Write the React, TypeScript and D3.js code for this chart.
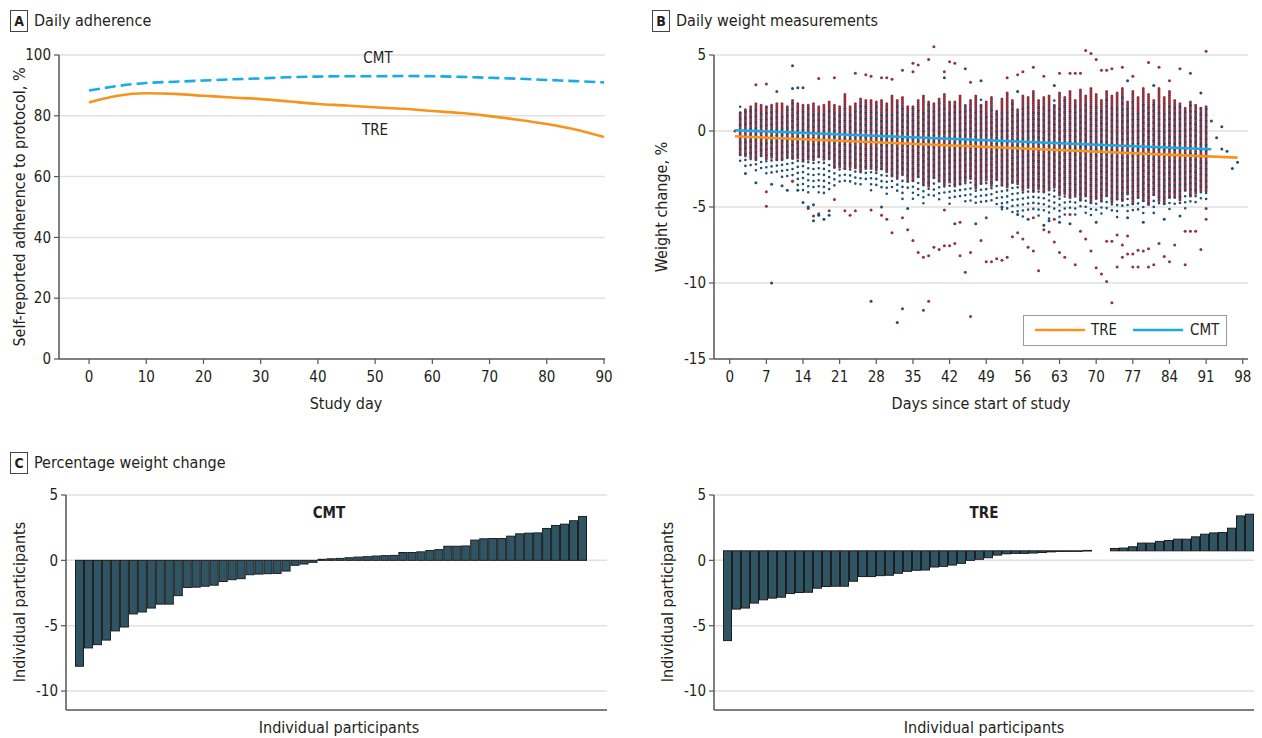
import React from 'react'
import * as d3 from 'd3'

// Panel A: daily adherence (%), read every 5 days
const adhDays = [0, 5, 10, 15, 20, 25, 30, 35, 40, 45, 50, 55, 60, 65, 70, 75, 80, 85, 90]
const adhTRE = [84.4, 86.6, 87.4, 87.2, 86.6, 86.0, 85.5, 84.7, 83.9, 83.4, 82.8, 82.3, 81.6, 80.9, 79.9, 78.7, 77.3, 75.5, 73.0]
const adhCMT = [88.3, 89.8, 90.8, 91.2, 91.6, 92.0, 92.3, 92.7, 92.9, 93.0, 93.0, 93.1, 93.0, 92.8, 92.5, 92.2, 91.8, 91.4, 91.0]
const adhTicksX = [0, 10, 20, 30, 40, 50, 60, 70, 80, 90]
const adhTicksY = [0, 20, 40, 60, 80, 100]

// Panel B: dense column extent per study day (days 2..91), weight change %
const treHi = [
  1.2, 1.4, 1.6, 1.8, 1.7, 1.6, 1.7, 1.8, 1.8, 1.6,
  2.0, 1.8, 1.7, 1.7, 1.8, 1.6, 1.7, 1.9, 1.7, 1.6,
  2.4, 1.6, 1.8, 2.1, 2.0, 2.0, 1.9, 2.0, 1.8, 2.3,
  2.0, 2.2, 1.6, 1.6, 2.0, 2.3, 1.9, 1.8, 2.1, 2.4,
  1.9, 1.9, 2.3, 1.6, 2.0, 2.3, 1.7, 1.9, 2.2, 1.3,
  2.1, 2.5, 2.0, 1.4, 2.3, 2.2, 2.6, 2.0, 2.2, 2.3,
  1.7, 2.5, 2.2, 2.6, 2.0, 2.7, 2.3, 2.8, 2.4, 2.0,
  2.6, 2.3, 2.5, 2.8, 1.9, 2.6, 2.2, 2.8, 2.4, 2.0,
  2.8, 2.2, 2.6, 2.0, 1.8, 1.5, 1.9, 1.7, 1.5, 1.6
]
const treLo = [
  -1.6, -1.7, -1.7, -2.0, -1.6, -1.9, -1.8, -2.0, -1.9, -1.8,
  -1.9, -1.8, -2.0, -1.9, -1.9, -1.8, -1.9, -1.8, -2.5, -2.4,
  -2.5, -2.4, -2.5, -2.7, -2.6, -2.5, -2.7, -2.5, -2.8, -3.0,
  -3.1, -2.9, -3.3, -3.4, -3.0, -3.5, -3.7, -3.2, -3.3, -3.6,
  -3.4, -3.7, -3.5, -3.4, -3.2, -3.8, -3.5, -3.3, -3.6, -3.2,
  -3.6, -3.8, -3.5, -3.5, -3.9, -3.8, -4.0, -3.9, -4.1, -4.0,
  -3.8, -4.3, -4.2, -4.5, -4.2, -4.6, -4.4, -4.8, -4.5, -4.7,
  -4.3, -4.8, -4.5, -4.6, -4.2, -4.9, -4.4, -4.7, -4.9, -4.3,
  -4.6, -4.8, -4.5, -4.4, -4.6, -4.0, -4.3, -4.2, -3.9, -4.0
]
const cmtHi = [
  1.6, 1.5, 1.4, 1.7, 1.3, 1.6, 1.5, 1.4, 1.3, 1.6,
  1.9, 1.5, 1.4, 1.5, 1.3, 1.2, 1.4, 1.5, 1.2, 1.3,
  1.6, 1.4, 1.5, 1.7, 1.9, 1.4, 1.6, 1.3, 1.5, 1.4,
  1.8, 1.5, 1.3, 1.6, 1.7, 1.4, 1.8, 1.6, 2.0, 1.5,
  1.4, 1.7, 1.6, 1.9, 1.4, 1.5, 2.2, 1.3, 1.6, 1.2,
  1.5, 1.4, 1.8, 1.3, 1.6, 1.9, 1.4, 1.6, 1.8, 1.5,
  2.0, 1.7, 2.1, 1.6, 1.8, 1.4, 2.0, 1.7, 1.9, 1.5,
  2.1, 1.8, 1.6, 2.2, 1.7, 2.0, 1.5, 1.9, 1.6, 2.0,
  1.7, 1.5, 1.8, 1.6, 1.9, 1.4, 1.7, 1.5, 1.6, 1.8
]
const cmtLo = [
  -2.3, -2.6, -2.5, -2.9, -2.6, -2.8, -3.0, -2.9, -3.2, -3.0,
  -3.4, -3.9, -4.1, -4.3, -4.0, -4.4, -4.2, -4.0, -3.6, -3.4,
  -3.3, -3.7, -3.5, -3.6, -3.4, -3.9, -3.7, -3.8, -4.2, -4.0,
  -4.3, -4.5, -4.1, -4.6, -4.4, -4.8, -4.5, -4.3, -4.7, -4.4,
  -4.9, -4.6, -4.5, -4.8, -4.6, -4.9, -4.7, -5.0, -4.8, -5.2,
  -5.4, -5.1, -5.6, -5.3, -5.7, -5.5, -5.3, -5.8, -5.6, -5.9,
  -5.4, -5.7, -5.5, -5.2, -5.6, -5.3, -5.5, -5.8, -5.4, -5.6,
  -5.2, -5.5, -5.9, -5.3, -5.6, -5.4, -5.2, -5.7, -5.0, -5.4,
  -5.1, -4.9, -5.3, -5.0, -4.8, -5.2, -4.7, -5.0, -4.6, -4.5
]
const firstColumnDay = 2

// scattered single measurements: [day, weight change %]
const treSingles = [
  [1, 0], [5, 3.05], [7, 3.1], [9, 2.6], [17, 3.45], [20, 3.5], [24, 3.8], [26, 3.7], [27, 3.6], [29, 3.5],
  [30, 3.5], [31, 3.4], [33, 4.0], [35, 4.45], [35, 3.9], [36, 4.35], [38, 4.7], [39, 5.55], [41, 3.9], [42, 4.55],
  [43, 4.45], [45, 4.1], [46, 3.2], [53, 3.5], [55, 3.7], [56, 3.9], [58, 4.2], [60, 3.6], [63, 3.8], [65, 3.8],
  [66, 3.8], [67, 3.8], [68, 5.3], [69, 5.1], [70, 4.7], [71, 4.0], [72, 4.0], [73, 4.1], [75, 4.2], [77, 3.6],
  [80, 4.5], [82, 4.2], [84, 3.3], [86, 4.1], [88, 3.8], [91, 5.25],
  [7, -4.0], [7, -4.95], [12, -3.3], [15, -5.1], [16, -5.6], [17, -5.45], [19, -5.25], [20, -4.5], [22, -5.25], [23, -5.55],
  [24, -5.25], [27, -5.2], [29, -5.55], [30, -5.8], [31, -6.7], [33, -5.7], [34, -6.5], [35, -7.2], [36, -8.0], [37, -8.3],
  [37, -11.8], [38, -8.2], [38, -11.2], [39, -7.65], [40, -7.8], [41, -7.55], [41, -5.2], [42, -7.55], [43, -7.4], [44, -8.2],
  [44, -6.0], [45, -9.3], [46, -8.0], [46, -12.2], [48, -7.2], [49, -8.6], [49, -5.7], [50, -8.6], [51, -8.4], [52, -8.5],
  [53, -8.3], [54, -6.95], [55, -6.7], [56, -7.1], [57, -7.65], [58, -7.9], [58, -5.7], [59, -9.2], [60, -6.5], [61, -6.65],
  [62, -7.3], [62, -5.8], [63, -8.0], [64, -8.3], [65, -5.5], [66, -8.8], [67, -6.6], [68, -7.1], [69, -7.9], [70, -9.0],
  [71, -9.4], [72, -9.9], [72, -7.25], [73, -11.3], [73, -7.25], [74, -6.85], [74, -8.95], [75, -7.5], [75, -8.3], [76, -6.9],
  [76, -8.1], [77, -8.95], [77, -8.1], [78, -7.85], [78, -8.95], [79, -7.9], [80, -7.75], [80, -8.95], [81, -8.8], [82, -7.4],
  [83, -8.25], [84, -8.6], [85, -7.5], [87, -8.8], [87, -6.6], [88, -6.6], [89, -6.6], [90, -7.8], [91, -5.1], [91, -5.8]
]
const cmtSingles = [
  [8, -10], [12, 4.3], [27, -11.2], [32, -12.6], [33, -11.7], [41, 3.5], [48, 3.3], [47, -6.1], [43, -6.1], [12, 2.8],
  [13, 2.85], [14, 2.85], [3, -2.8], [5, -3.4], [8, -3.5], [10, -3.6], [11, -3.9], [13, -3.9], [15, -5.0], [16, -5.9],
  [17, -5.55], [18, -5.8], [19, -5.55], [16, -4.85], [14, -4.7], [29, -5.0], [34, -5.1], [52, -5.0], [55, -5.5], [57, -5.8],
  [60, -6.2], [61, -5.9], [63, -6.0], [65, -6.1], [70, -6.0], [76, -5.7], [79, -6.0], [83, -5.8], [86, -5.6], [62, 3.0],
  [55, 2.6], [76, 3.3], [81, 3.0], [90, 2.5],
  [92, 0.66], [93, -0.44], [94, 0.28], [94, -1.18], [95, -1.33], [96, -2.46], [97, -2.05]
]
// fitted trend lines: [day, weight change %]
const trendTRE = [[1, -0.35], [97, -1.75]]
const trendCMT = [[1, 0.05], [92, -1.2]]
const wtTicksX = [0, 7, 14, 21, 28, 35, 42, 49, 56, 63, 70, 77, 84, 91, 98]
const wtTicksY = [5, 0, -5, -10, -15]

// Panel C: individual % weight change, sorted
const changeCMT = [
  -8.1, -6.7, -6.45, -6.1, -5.4, -5.1, -4.1, -3.95, -3.65, -3.35, -3.35, -2.7, -2.08, -2.05, -1.98, -1.9, -1.62, -1.48, -1.4,
  -1.1, -1.05, -1.02, -1.0, -0.82, -0.38, -0.28, -0.15, 0.08, 0.12, 0.15, 0.2, 0.25, 0.28, 0.33, 0.36, 0.38,
  0.6, 0.6, 0.65, 0.75, 0.82, 1.08, 1.08, 1.1, 1.55, 1.65, 1.67, 1.67, 1.85, 2.03, 2.08, 2.1, 2.44, 2.67, 2.77, 3.03, 3.36
]
const changeTRE = [
  -6.14, -3.73, -3.65, -3.27, -3.02, -2.89, -2.82, -2.54, -2.46, -2.44, -2.13, -2.0, -1.98, -1.98, -1.6, -1.24, -1.24, -1.17,
  -1.14, -0.99, -0.84, -0.76, -0.74, -0.51, -0.46, -0.36, -0.23, 0.0, 0.08, 0.2, 0.4, 0.5, 0.53, 0.53, 0.56, 0.6, 0.65, 0.68,
  0.7, 0.72, 0.76, null, null, 0.91, 0.94, 1.04, 1.32, 1.32, 1.45, 1.52, 1.62, 1.62, 1.8, 2.0, 2.1, 2.13, 2.46, 3.4, 3.53
]
const treBase = 0.73
const changeTicksY = [5, 0, -5, -10]

const FONT = '"Liberation Sans Narrow", "DejaVu Sans Condensed", "Liberation Sans", sans-serif'
const TXT = '#231f20'
const GRID = '#e1e1e1'
const AXIS = '#555'
const ORANGE = '#f7941d'
const SKY = '#18ace6'
const DOT_RED = '#8e3340'
const DOT_BLUE = '#1d4f78'
const BAR = '#2f5565'

// scales
const xA = d3.scaleLinear().domain([-5.25, 90]).range([59, 604])
const yA = d3.scaleLinear().domain([0, 100]).range([359, 55])
const xB = d3.scaleLinear().domain([-3, 99]).range([714, 1248])
const yB = d3.scaleLinear().domain([-15, 5]).range([359, 55])
const yC = d3.scaleLinear().domain([-11.45, 5]).range([710, 495])
const xCL = d3.scaleBand<number>().domain(d3.range(changeCMT.length)).range([75, 587])
const xCR = d3.scaleBand<number>().domain(d3.range(changeTRE.length)).range([723, 1254])

const adhLine = d3
  .line<number>()
  .x((d, i) => xA(adhDays[i]))
  .y(d => yA(d))
  .curve(d3.curveMonotoneX)

const trendLine = d3
  .line<number[]>()
  .x(d => xB(d[0]))
  .y(d => yB(d[1]))

function PanelTitle({ x, y, letter, title }: { x: number; y: number; letter: string; title: string }) {
  return (
    <g>
      <rect x={x + 0.5} y={y + 0.5} width={17} height={21} fill="#fff" stroke="#444" strokeWidth={1} />
      <text x={x + 9} y={y + 16} textAnchor="middle" fontSize={14} fontWeight="bold" fill={TXT}>
        {letter}
      </text>
      <text x={x + 24} y={y + 16} fontSize={16} fill={TXT}>
        {title}
      </text>
    </g>
  )
}

function YGrid({ ticks, y, x0, x1, fmt }: { ticks: number[]; y: (v: number) => number; x0: number; x1: number; fmt?: (v: number) => string }) {
  return (
    <g>
      {ticks.map(t => (
        <g key={t}>
          <line x1={x0} x2={x1} y1={y(t)} y2={y(t)} stroke={GRID} strokeWidth={1.5} />
          <line x1={x0 - 5} x2={x0} y1={y(t)} y2={y(t)} stroke={AXIS} strokeWidth={1.2} />
          <text x={x0 - 8} y={y(t)} dy="0.35em" textAnchor="end" fontSize={15} fill={TXT}>
            {fmt ? fmt(t) : t}
          </text>
        </g>
      ))}
    </g>
  )
}

function XTicks({ ticks, x, y0 }: { ticks: number[]; x: (v: number) => number; y0: number }) {
  return (
    <g>
      {ticks.map(t => (
        <g key={t}>
          <line x1={x(t)} x2={x(t)} y1={y0} y2={y0 + 5} stroke={AXIS} strokeWidth={1.2} />
          <text x={x(t)} y={y0 + 23} textAnchor="middle" fontSize={15} fill={TXT}>
            {t}
          </text>
        </g>
      ))}
    </g>
  )
}

function Bars({ values, x, base }: { values: (number | null)[]; x: d3.ScaleBand<number>; base: number }) {
  return (
    <g>
      {values.map((v, i) =>
        v === null ? null : (
          <rect
            key={i}
            x={x(i)! + 0.5}
            width={x.bandwidth() - 1}
            y={Math.min(yC(v), yC(base))}
            height={Math.max(0.6, Math.abs(yC(v) - yC(base)))}
            fill={BAR}
            stroke="#1e1e1e"
            strokeWidth={1}
          />
        )
      )}
    </g>
  )
}

export default function App() {
  const fmtMinus = (v: number) => (v < 0 ? '-' + Math.abs(v) : String(v))
  return (
    <svg
      width={1262}
      height={738}
      style={{ position: 'absolute', left: 0, top: 0, background: '#fff' }}
      fontFamily={FONT}
    >
      {/* ---------- A ---------- */}
      <PanelTitle x={10} y={10} letter="A" title="Daily adherence" />
      <YGrid ticks={adhTicksY.filter(t => t > 0)} y={yA} x0={59} x1={605} />
      <line x1={54} x2={59} y1={yA(0)} y2={yA(0)} stroke={AXIS} strokeWidth={1.2} />
      <text x={51} y={yA(0)} dy="0.35em" textAnchor="end" fontSize={15} fill={TXT}>0</text>
      <line x1={59} x2={59} y1={55} y2={359} stroke={AXIS} strokeWidth={1.5} />
      <line x1={59} x2={605} y1={359} y2={359} stroke={AXIS} strokeWidth={1.5} />
      <XTicks ticks={adhTicksX} x={xA} y0={359} />
      <path d={adhLine(adhCMT)!} fill="none" stroke={SKY} strokeWidth={2.6} strokeDasharray="11 5" />
      <path d={adhLine(adhTRE)!} fill="none" stroke={ORANGE} strokeWidth={2.6} />
      <text x={378} y={63} textAnchor="middle" fontSize={15} fill={TXT}>CMT</text>
      <text x={375} y={135} textAnchor="middle" fontSize={15} fill={TXT}>TRE</text>
      <text x={346} y={409} textAnchor="middle" fontSize={16} fill={TXT}>Study day</text>
      <text transform="translate(25,207) rotate(-90)" textAnchor="middle" fontSize={16} fill={TXT}>
        Self-reported adherence to protocol, %
      </text>

      {/* ---------- B ---------- */}
      <PanelTitle x={652} y={10} letter="B" title="Daily weight measurements" />
      <YGrid ticks={wtTicksY.filter(t => t > -15)} y={yB} x0={714} x1={1248} fmt={fmtMinus} />
      <line x1={709} x2={714} y1={yB(-15)} y2={yB(-15)} stroke={AXIS} strokeWidth={1.2} />
      <text x={706} y={yB(-15)} dy="0.35em" textAnchor="end" fontSize={15} fill={TXT}>-15</text>
      <g>
        {treHi.map((hi, i) => (
          <line
            key={'r' + i}
            x1={xB(i + firstColumnDay)}
            x2={xB(i + firstColumnDay)}
            y1={yB(hi)}
            y2={yB(treLo[i])}
            stroke={DOT_RED}
            strokeWidth={3}
            strokeLinecap="round"
            strokeDasharray="0 2"
          />
        ))}
        {cmtHi.map((hi, i) => (
          <line
            key={'b' + i}
            x1={xB(i + firstColumnDay)}
            x2={xB(i + firstColumnDay)}
            y1={yB(hi)}
            y2={yB(cmtLo[i])}
            stroke={DOT_BLUE}
            strokeWidth={2.6}
            strokeLinecap="round"
            strokeDasharray="0 6"
            strokeDashoffset={(i * 2.3) % 6}
          />
        ))}
        {treSingles.map((d, i) => (
          <circle key={'rs' + i} cx={xB(d[0])} cy={yB(d[1])} r={1.5} fill={DOT_RED} />
        ))}
        {cmtSingles.map((d, i) => (
          <circle key={'bs' + i} cx={xB(d[0])} cy={yB(d[1])} r={1.5} fill={DOT_BLUE} />
        ))}
      </g>
      <path d={trendLine(trendTRE)!} fill="none" stroke={ORANGE} strokeWidth={2.6} />
      <path d={trendLine(trendCMT)!} fill="none" stroke={SKY} strokeWidth={2.6} />
      <line x1={714} x2={714} y1={55} y2={359} stroke={AXIS} strokeWidth={1.5} />
      <line x1={714} x2={1248} y1={359} y2={359} stroke={AXIS} strokeWidth={1.5} />
      <XTicks ticks={wtTicksX} x={xB} y0={359} />
      <g>
        <rect x={1023.5} y={315.5} width={203} height={30} fill="#fff" stroke="#999" strokeWidth={1} />
        <line x1={1035} x2={1085} y1={330} y2={330} stroke={ORANGE} strokeWidth={2.6} />
        <text x={1091} y={330} dy="0.35em" fontSize={15} fill={TXT}>TRE</text>
        <line x1={1133} x2={1183} y1={330} y2={330} stroke={SKY} strokeWidth={2.6} />
        <text x={1190} y={330} dy="0.35em" fontSize={15} fill={TXT}>CMT</text>
      </g>
      <text x={981} y={409} textAnchor="middle" fontSize={16} fill={TXT}>Days since start of study</text>
      <text transform="translate(667,207) rotate(-90)" textAnchor="middle" fontSize={16} fill={TXT}>
        Weight change, %
      </text>

      {/* ---------- C ---------- */}
      <PanelTitle x={10} y={452} letter="C" title="Percentage weight change" />
      <YGrid ticks={changeTicksY} y={yC} x0={66} x1={607} fmt={fmtMinus} />
      <Bars values={changeCMT} x={xCL} base={0} />
      <line x1={66} x2={66} y1={495} y2={710} stroke={AXIS} strokeWidth={1.5} />
      <line x1={66} x2={607} y1={710} y2={710} stroke={AXIS} strokeWidth={1.5} />
      <text x={329} y={518} textAnchor="middle" fontSize={15} fontWeight="bold" fill={TXT}>CMT</text>
      <text x={339} y={733} textAnchor="middle" fontSize={16} fill={TXT}>Individual participants</text>
      <text transform="translate(25,602) rotate(-90)" textAnchor="middle" fontSize={16} fill={TXT}>
        Individual participants
      </text>

      <YGrid ticks={changeTicksY} y={yC} x0={714} x1={1254} fmt={fmtMinus} />
      <Bars values={changeTRE} x={xCR} base={treBase} />
      <line x1={714} x2={714} y1={495} y2={710} stroke={AXIS} strokeWidth={1.5} />
      <line x1={714} x2={1254} y1={710} y2={710} stroke={AXIS} strokeWidth={1.5} />
      <text x={984} y={518} textAnchor="middle" fontSize={15} fontWeight="bold" fill={TXT}>TRE</text>
      <text x={984} y={733} textAnchor="middle" fontSize={16} fill={TXT}>Individual participants</text>
      <text transform="translate(673,602) rotate(-90)" textAnchor="middle" fontSize={16} fill={TXT}>
        Individual participants
      </text>
    </svg>
  )
}
